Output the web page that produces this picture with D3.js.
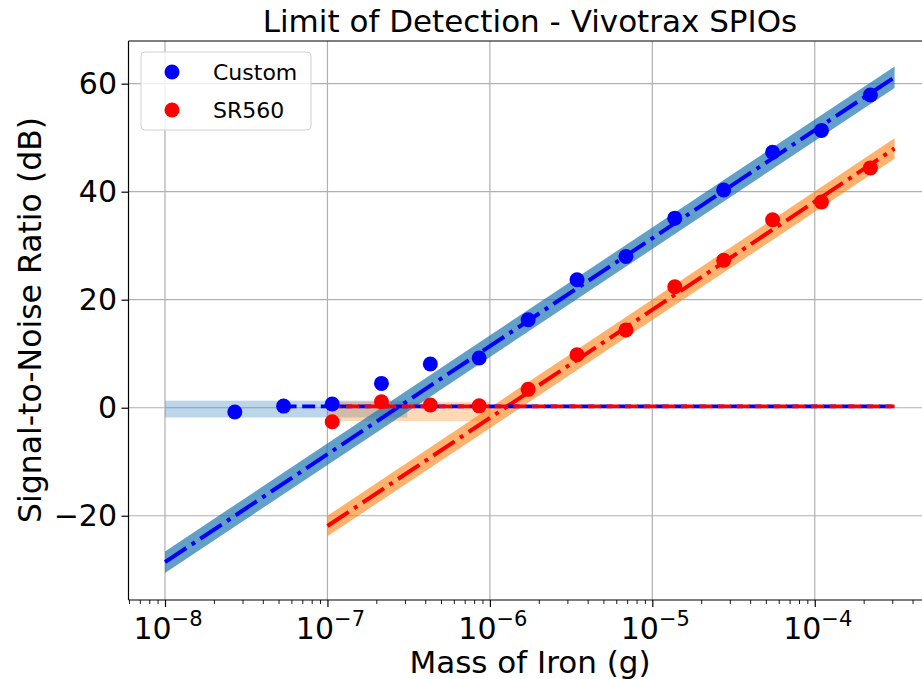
<!DOCTYPE html>
<html><head><meta charset="utf-8">
<script src="https://cdn.jsdelivr.net/npm/d3@7"></script>
<style>body{margin:0;background:#fff}svg text{font-family:"DejaVu Sans",sans-serif;fill:#000}</style>
</head><body>
<svg id="c" width="922" height="679"></svg>
<script>
// ---- data ----
const massCustom = [2.69e-8, 5.37e-8, 1.07e-7, 2.15e-7, 4.30e-7, 8.59e-7, 1.72e-6, 3.44e-6, 6.88e-6, 1.375e-5, 2.75e-5, 5.5e-5, 1.1e-4, 2.2e-4];
const snrCustom  = [-0.8, 0.3, 0.7, 4.5, 8.1, 9.2, 16.3, 23.7, 28.0, 35.1, 40.3, 47.3, 51.35, 57.9];
const massSR560  = [1.07e-7, 2.15e-7, 4.30e-7, 8.59e-7, 1.72e-6, 3.44e-6, 6.88e-6, 1.375e-5, 2.75e-5, 5.5e-5, 1.1e-4, 2.2e-4];
const snrSR560   = [-2.6, 1.1, 0.5, 0.35, 3.4, 9.8, 14.4, 22.4, 27.3, 34.8, 38.1, 44.4];

// linear fits (endpoints) and their bands
const fitCustomX = [1e-8, 3.1e-4];
const fitCustomY = [-28.6, 61.2];
const fitCustomLo = [-30.6, 59.2];
const fitCustomHi = [-26.6, 63.2];
const fitSR560X = [1e-7, 3.1e-4];
const fitSR560Y = [-21.9, 48.0];
const fitSR560Lo = [-23.8, 46.1];
const fitSR560Hi = [-20.0, 49.9];

// noise floors
const floorCustomX = [5.37e-8, 3.1e-4];
const floorSR560X = [1e-7, 3.1e-4];
const floorLevel = 0.25;
const noiseCustomX = [1e-8, 3.1e-7];
const noiseCustomBand = [-1.8, 1.3];
const noiseSR560X = [1e-7, 1.0e-6];
const noiseSR560Band = [-2.5, 1.1];

const xDomain = [Math.pow(10, -8.2247), Math.pow(10, -3.2813)];
const yDomain = [-35.6, 67.9];
const xMajor = [1e-8, 1e-7, 1e-6, 1e-5, 1e-4];
const xMajorExp = ["\u22128", "\u22127", "\u22126", "\u22125", "\u22124"];
const yMajor = [-20, 0, 20, 40, 60];
const yMajorLabels = ["\u221220", "0", "20", "40", "60"];
const seriesNames = ["Custom", "SR560"];

// ---- layout ----
const L = 128.5, R = 931.5, T = 41, B = 600;
const svg = d3.select("#c");
const x = d3.scaleLog().domain(xDomain).range([L, R]);
const y = d3.scaleLinear().domain(yDomain).range([B, T]);

const blue = "#0000ff", red = "#ff0000";
const tabBlue = "#1f77b4", tabOrange = "#ff7f0e";

// minor ticks
const xMinor = [];
for (let e = -9; e <= -3; e++) for (let m = 2; m <= 9; m++) {
  const v = m * Math.pow(10, e);
  if (v >= xDomain[0] && v <= xDomain[1]) xMinor.push(v);
}

// grid
const g = svg.append("g");
g.selectAll(".vg").data(xMajor).enter().append("line")
  .attr("x1", d => x(d)).attr("x2", d => x(d)).attr("y1", T).attr("y2", B)
  .attr("stroke", "#b0b0b0").attr("stroke-width", 1.2);
g.selectAll(".hg").data(yMajor).enter().append("line")
  .attr("x1", L).attr("x2", R).attr("y1", d => y(d)).attr("y2", d => y(d))
  .attr("stroke", "#b0b0b0").attr("stroke-width", 1.2);

// noise bands
function hband(xs, band, color, op) {
  svg.append("rect").attr("x", x(xs[0])).attr("width", x(xs[1]) - x(xs[0]))
    .attr("y", y(band[1])).attr("height", y(band[0]) - y(band[1]))
    .attr("fill", color).attr("fill-opacity", op);
}
hband(noiseCustomX, noiseCustomBand, tabBlue, 0.3);
hband(noiseSR560X, noiseSR560Band, tabOrange, 0.3);

// fit bands
function fband(xs, lo, hi, color, op) {
  const pts = xs.map((v, i) => ({x: v, lo: lo[i], hi: hi[i]}));
  const area = d3.area().x(d => x(d.x)).y0(d => y(d.lo)).y1(d => y(d.hi));
  svg.append("path").attr("d", area(pts)).attr("fill", color).attr("fill-opacity", op);
}
fband(fitCustomX, fitCustomLo, fitCustomHi, tabBlue, 0.7);
fband(fitSR560X, fitSR560Lo, fitSR560Hi, tabOrange, 0.6);

// fit lines
const line = d3.line().x(d => x(d[0])).y(d => y(d[1]));
function fline(xs, ys, color) {
  svg.append("path").attr("d", line(xs.map((v, i) => [v, ys[i]])))
    .attr("fill", "none").attr("stroke", color).attr("stroke-width", 4)
    .attr("stroke-dasharray", "25.6,6.4,4,6.4");
}
fline(fitCustomX, fitCustomY, blue);
fline(fitSR560X, fitSR560Y, red);

// floor lines
function flr(xs, color) {
  svg.append("path").attr("d", line(xs.map(v => [v, floorLevel])))
    .attr("fill", "none").attr("stroke", color).attr("stroke-width", 3.8)
    .attr("stroke-dasharray", "13,5.6");
}
flr(floorCustomX, blue);
flr(floorSR560X, red);

// points
svg.append("g").selectAll("circle").data(massCustom.map((m, i) => [m, snrCustom[i]])).enter()
  .append("circle").attr("cx", d => x(d[0])).attr("cy", d => y(d[1])).attr("r", 7.5).attr("fill", blue);
svg.append("g").selectAll("circle").data(massSR560.map((m, i) => [m, snrSR560[i]])).enter()
  .append("circle").attr("cx", d => x(d[0])).attr("cy", d => y(d[1])).attr("r", 7.5).attr("fill", red);

// spines
svg.append("line").attr("x1", L).attr("x2", L).attr("y1", T).attr("y2", B).attr("stroke", "#000").attr("stroke-width", 1.2);
svg.append("line").attr("x1", L).attr("x2", R).attr("y1", B).attr("y2", B).attr("stroke", "#000").attr("stroke-width", 1.2);
svg.append("line").attr("x1", L).attr("x2", R).attr("y1", T).attr("y2", T).attr("stroke", "#000").attr("stroke-width", 1.2);
svg.append("line").attr("x1", R).attr("x2", R).attr("y1", T).attr("y2", B).attr("stroke", "#000").attr("stroke-width", 1.2);

// ticks
svg.append("g").attr("transform", `translate(0,${B})`)
  .call(d3.axisBottom(x).tickValues(xMajor).tickSize(7).tickFormat(""))
  .call(a => a.select(".domain").remove())
  .call(a => a.selectAll("line").attr("stroke-width", 1.2));
svg.append("g").attr("transform", `translate(0,${B})`)
  .call(d3.axisBottom(x).tickValues(xMinor).tickSize(4).tickFormat(""))
  .call(a => a.select(".domain").remove())
  .call(a => a.selectAll("line").attr("stroke-width", 0.9));
svg.append("g").attr("transform", `translate(${L},0)`)
  .call(d3.axisLeft(y).tickValues(yMajor).tickSize(7).tickFormat(""))
  .call(a => a.select(".domain").remove())
  .call(a => a.selectAll("line").attr("stroke-width", 1.2));

// tick labels
const xl = svg.append("g").selectAll("text").data(xMajor).enter().append("text")
  .attr("x", d => x(d) + 3).attr("y", 639).attr("text-anchor", "middle").style("font-size", "30px");
xl.append("tspan").text("10");
xl.append("tspan").attr("dy", -13).style("font-size", "21px").text((d, i) => xMajorExp[i]);

svg.append("g").selectAll("text").data(yMajor).enter().append("text")
  .attr("x", 117).attr("y", d => y(d) + 10.5).attr("text-anchor", "end").style("font-size", "30px")
  .text((d, i) => yMajorLabels[i]);

// axis labels & title
svg.append("text").attr("x", 530).attr("y", 673).attr("text-anchor", "middle").style("font-size", "31px").text("Mass of Iron (g)");
svg.append("text").attr("transform", "translate(41,320) rotate(-90)").attr("text-anchor", "middle").style("font-size", "31.5px").text("Signal-to-Noise Ratio (dB)");
svg.append("text").attr("x", 530).attr("y", 32).attr("text-anchor", "middle").style("font-size", "31px").text("Limit of Detection - Vivotrax SPIOs");

// legend
const lg = svg.append("g");
lg.append("rect").attr("x", 141).attr("y", 52).attr("width", 170).attr("height", 78).attr("rx", 4)
  .attr("fill", "#fff").attr("fill-opacity", 0.8).attr("stroke", "#d0d0d0").attr("stroke-width", 1);
[blue, red].forEach((c, i) => {
  lg.append("circle").attr("cx", 172).attr("cy", 72 + i * 38).attr("r", 7.5).attr("fill", c);
  lg.append("text").attr("x", 213).attr("y", 80 + i * 38).style("font-size", "22px").text(seriesNames[i]);
});
</script>
</body></html>
